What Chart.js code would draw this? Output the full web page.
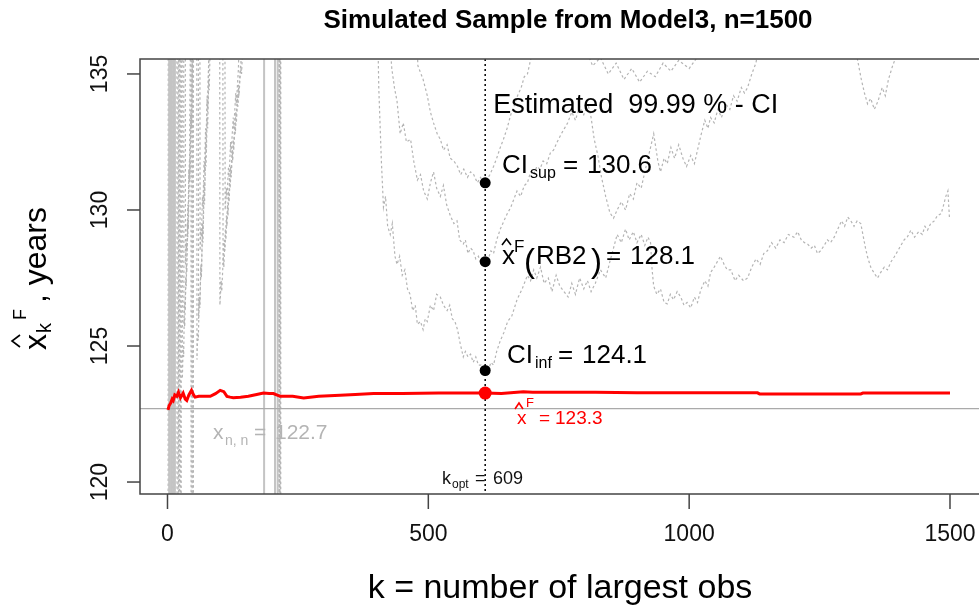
<!DOCTYPE html>
<html lang="en">
  <head>
    <meta charset="UTF-8" />
    <title>Simulated Sample from Model3, n=1500</title>
    <script src="https://cdn.jsdelivr.net/npm/chart.js"></script>
    <style>
      html,
      body {
        margin: 0;
        padding: 0;
        overflow: hidden;
        background: #fff;
      }
      #wrap {
        width: 979px;
        height: 610px;
        overflow: hidden;
      }
      canvas {
        display: block;
      }
    </style>
  </head>
  <body>
    <div id="wrap"><canvas id="endpointChart" width="979" height="610"></canvas></div>

    <script>
      // axis ticks
      var xTicks = [0, 500, 1000, 1500];
      var yTicks = [120, 125, 130, 135];

      // estimates at the chosen k
      var kOpt = 609;
      var supDot = 131.0;
      var estDot = 128.1;
      var infDot = 124.1;
      var xHatF = 123.27;
      var xMax = 122.7; // x_{n,n}

      // endpoint estimate x^F against k (red)
      var redK = [1, 3, 6, 9, 11, 14, 18, 21, 25, 30, 34, 37, 41, 46, 50, 53, 60, 70, 82, 92, 101, 108, 114, 120, 126, 140, 155, 171, 184, 195, 203, 216, 240, 261, 290, 331, 360, 395, 450, 520, 587, 609, 640, 682, 700, 760, 820, 900, 1000, 1131, 1135, 1200, 1329, 1333, 1400, 1500];
      var redV = [122.65, 122.8, 122.9, 123.05, 123.0, 123.2, 123.15, 123.3, 123.1, 123.27, 123.05, 123.0, 123.2, 123.37, 123.2, 123.12, 123.15, 123.15, 123.15, 123.25, 123.37, 123.32, 123.15, 123.12, 123.1, 123.12, 123.15, 123.22, 123.27, 123.25, 123.25, 123.15, 123.15, 123.09, 123.15, 123.19, 123.22, 123.25, 123.25, 123.27, 123.27, 123.27, 123.25, 123.32, 123.3, 123.3, 123.3, 123.28, 123.28, 123.28, 123.24, 123.24, 123.24, 123.27, 123.27, 123.27];

      // lower CI curve (gray dotted); 100 / 140 = outside the plotted range
      var lowK = [1, 1.5, 18, 18.5, 21, 21.5, 28, 28.5, 30, 31, 32, 33, 35, 36, 38, 39, 41, 42, 43, 44, 45, 45.5, 47, 47.5, 56, 56.5, 58, 59, 61, 62, 64, 65, 67, 68, 70, 71, 73, 74, 76, 77, 79, 80, 100, 100.5, 103, 104, 107, 108, 111, 112, 115, 116, 119, 120, 124, 125, 129, 130, 134, 135, 140, 142, 146, 213, 213.5, 216, 216.5, 400,
        405, 410, 414, 418, 422, 427, 431, 436, 440, 445, 450, 455, 460, 465, 470, 475, 479, 485, 490, 494, 498, 504, 510, 516, 523, 529, 536, 541, 546, 551, 556, 561, 567, 571, 576, 581, 586, 591, 596, 601, 606, 611, 615, 620, 625, 631, 638, 645, 652, 660, 670, 680, 690, 696, 702, 708, 715, 722, 730, 737, 745, 752, 760, 768, 775, 782, 790, 798, 805, 812, 820, 830, 840, 848, 855, 862, 870, 878, 885, 893, 900, 908, 915, 921, 926, 929, 932, 938, 945, 952, 958, 964, 970, 977, 984, 990, 996, 1003, 1010, 1016, 1022, 1030, 1036, 1041, 1048, 1054, 1060, 1067, 1073, 1080, 1088, 1095, 1104, 1112, 1120, 1128, 1136, 1143, 1150, 1158, 1166, 1174, 1182, 1190, 1201, 1208, 1215, 1221, 1227, 1234, 1240, 1246, 1252, 1259, 1265, 1271, 1278, 1285, 1292, 1298, 1304, 1310, 1316, 1322, 1329, 1334, 1338, 1342, 1348, 1354, 1361, 1367, 1374, 1380, 1387, 1393, 1400, 1406, 1412, 1418, 1425, 1432, 1440, 1447, 1452, 1457, 1463, 1470, 1476, 1483, 1488, 1492, 1496, 1499];
      var lowV = [100, 140, 140, 100, 100, 140, 140, 123.8, 125.0, 124.6, 126.0, 125.7, 127.5, 127.2, 129.5, 129.0, 131.5, 131.0, 134.0, 136.5, 140, 100, 100, 140, 140, 124.5, 125.5, 125.2, 126.8, 126.4, 128.0, 127.6, 129.5, 129.1, 131.0, 130.6, 132.5, 132.1, 134.0, 133.6, 135.6, 137, 140, 126.5, 127.4, 127.0, 128.3, 127.9, 129.3, 128.9, 130.2, 129.8, 131.2, 130.8, 132.2, 131.8, 133.2, 132.8, 134.2, 133.8, 135.3, 135.0, 137, 140, 100, 100, 140, 140,
        134.5, 131.8, 130.1, 130.5, 129.4, 129.1, 129.5, 128.3, 128.0, 128.3, 127.6, 127.8, 127.1, 126.9, 126.3, 126.5, 125.8, 125.9, 125.6, 126.0, 125.9, 126.5, 126.3, 126.9, 126.8, 126.5, 126.3, 126.5, 126.0, 125.9, 125.6, 125.1, 124.6, 124.8, 124.6, 124.7, 124.4, 124.6, 124.3, 124.3, 124.1, 124.2, 124.1, 124.4, 124.3, 124.8, 125.2, 125.5, 125.9, 126.1, 126.7, 127.1, 127.6, 127.4, 127.8, 127.5, 127.9, 127.3, 127.5, 127.0, 127.6, 127.2, 127.0, 126.8, 127.3, 126.9, 127.5, 127.1, 127.4, 127.0, 127.3, 127.8, 127.5, 128.1, 128.6, 129.1, 128.8, 129.3, 128.9, 129.2, 128.8, 129.1, 128.7, 129.0, 128.8, 127.8, 127.2, 126.9, 127.1, 126.6, 126.55, 126.9, 126.7, 127.0, 126.8, 126.5, 126.6, 126.4, 126.8, 126.6, 127.05, 127.4, 127.2, 127.7, 127.9, 128.1, 128.3, 128.0, 127.8, 127.8, 127.4, 127.6, 127.4, 127.5, 127.9, 128.2, 128.0, 128.4, 128.5, 128.8, 128.6, 128.9, 128.8, 129.1, 129.0, 129.2, 128.9, 128.8, 128.75, 128.6, 128.7, 128.4, 128.5, 128.7, 128.9, 128.8, 129.0, 129.3, 129.6, 129.4, 129.74, 129.6, 129.4, 129.6, 129.5, 129.0, 128.6, 128.27, 127.9, 127.7, 127.5, 127.7, 127.9, 127.8, 128.1, 128.27, 128.5, 128.7, 128.9, 129.0, 129.26, 129.0, 129.2, 129.1, 129.4, 129.26, 129.5, 129.6, 129.8, 129.86, 130.2, 130.5, 130.7, 129.7];

      // middle curve, x^F(RB2) against k (gray dotted)
      var estK = [1, 8, 8.5, 10, 10.5, 20, 20.5, 23, 23.5, 31, 31.5, 33, 34, 36, 37, 39, 40, 42, 43, 45, 46, 48, 48.5, 48.8, 49.5, 49.8, 59, 59.5, 61, 62, 64, 65, 67, 68, 70, 71, 73, 74, 76, 77, 79, 80, 82, 84, 106, 106.5, 109, 110, 113, 114, 117, 118, 121, 122, 126, 127, 131, 132, 136, 137, 141, 145, 214, 214.5, 215.5, 216, 420,
        425, 430, 435, 440, 446, 452, 458, 466, 472, 479, 485, 491, 498, 504, 510, 516, 523, 529, 535, 542, 549, 555, 560, 567, 571, 576, 581, 586, 591, 596, 601, 606, 611, 615, 620, 625, 631, 638, 645, 651, 658, 664, 670, 677, 684, 690, 696, 702, 708, 714, 720, 727, 734, 740, 747, 755, 761, 767, 775, 782, 790, 798, 806, 812, 818, 825, 832, 840, 848, 855, 862, 870, 878, 886, 893, 900, 908, 915, 921, 926, 932, 940, 945, 952, 958, 965, 972, 980, 988, 995, 1003, 1010, 1016, 1022, 1030, 1036, 1041, 1048, 1055, 1062, 1070, 1078, 1085, 1092, 1100, 1106, 1112, 1120, 1128, 1136, 1200, 1300, 1320, 1330, 1336, 1342, 1348, 1355, 1362, 1370, 1376, 1382, 1390, 1398, 1405, 1500];
      var estV = [140, 140, 100, 100, 140, 140, 100, 100, 140, 140, 125.8, 126.6, 126.3, 128.0, 127.7, 129.6, 129.3, 131.5, 131.1, 133.5, 133.0, 135.5, 140, 100, 100, 140, 140, 126.0, 126.8, 126.5, 127.9, 127.5, 129.2, 128.8, 130.6, 130.2, 132.0, 131.6, 133.4, 133.0, 134.8, 134.4, 136.2, 140, 140, 128.0, 128.9, 128.5, 129.8, 129.4, 130.7, 130.3, 131.6, 131.2, 132.6, 132.2, 133.6, 133.2, 134.6, 134.2, 135.5, 137, 140, 100, 100, 140, 140,
        136.5, 135.2, 134.5, 134.0, 132.8, 133.2, 132.5, 132.6, 131.8, 131.1, 131.3, 130.7, 130.4, 131.0, 131.4, 130.8, 130.5, 130.9, 130.2, 129.8, 129.5, 129.6, 128.9, 128.75, 128.9, 128.4, 128.6, 128.5, 128.2, 128.3, 128.0, 128.3, 128.1, 128.2, 128.5, 128.4, 128.9, 129.3, 129.6, 129.85, 130.1, 130.4, 130.7, 130.5, 130.9, 131.0, 131.4, 131.3, 131.6, 131.5, 131.8, 131.7, 132.1, 132.2, 132.5, 132.8, 133.0, 133.2, 133.6, 133.3, 133.8, 133.5, 133.9, 133.4, 132.6, 132.0, 131.2, 130.5, 129.9, 129.7, 130.0, 130.3, 130.0, 130.6, 130.4, 131.0, 130.8, 131.4, 131.9, 132.3, 132.8, 131.8, 131.4, 131.9, 131.7, 132.3, 131.9, 132.4, 131.9, 131.6, 132.0, 131.7, 132.2, 132.7, 133.3, 133.0, 133.4, 133.2, 133.7, 133.4, 133.9, 133.7, 134.2, 134.0, 134.5, 134.3, 134.5, 135.0, 135.4, 136.3, 137, 137, 135.8, 134.8, 134.3, 133.9, 134.1, 133.7, 134.0, 134.5, 134.2, 134.8, 135.3, 135.7, 136.5, 138];

      // upper CI curve (gray dotted)
      var supK = [1, 12, 12.5, 13, 13.5, 24, 24.5, 26, 26.5, 34, 34.5, 36, 37, 39, 40, 42, 43, 45, 46, 47, 47.5, 62, 62.5, 64, 65, 67, 68, 70, 71, 73, 74, 76, 77, 79, 81, 110, 110.5, 113, 114, 117, 118, 121, 122, 126, 127, 131, 132, 136, 138, 215, 215.2, 217, 217.2, 470,
        480, 490, 498, 504, 510, 517, 523, 529, 536, 542, 549, 556, 562, 568, 575, 581, 587, 594, 600, 606, 612, 618, 625, 631, 638, 644, 651, 658, 664, 671, 678, 684, 690, 697, 705, 760, 800, 815, 830, 845, 860, 875, 890, 905, 920, 935, 950, 965, 980, 1000, 1015, 1030, 1500];
      var supV = [140, 140, 100, 100, 140, 140, 100, 100, 140, 140, 128.0, 128.8, 128.5, 130.2, 129.9, 131.8, 131.4, 133.6, 133.2, 135.5, 140, 140, 128.5, 129.3, 129.0, 130.5, 130.1, 131.8, 131.4, 133.0, 132.6, 134.2, 133.8, 135.4, 137, 140, 130.0, 130.8, 130.4, 131.6, 131.2, 132.5, 132.1, 133.4, 133.0, 134.3, 133.9, 135.2, 137, 140, 100, 100, 140, 140,
        135.3, 134.8, 134.2, 133.6, 133.2, 132.8, 132.6, 132.2, 132.4, 131.9, 131.8, 131.6, 131.3, 131.5, 131.2, 131.4, 131.3, 131.0, 131.2, 131.0, 131.1, 131.3, 131.6, 131.9, 132.3, 132.6, 133.0, 133.5, 133.8, 134.2, 134.5, 134.9, 135.0, 135.6, 136.5, 137, 136.0, 135.3, 135.6, 135.0, 135.4, 134.8, 135.2, 134.7, 135.1, 134.9, 135.4, 135.1, 135.5, 135.2, 135.6, 136.5, 138];

      // another estimator, only visible as jumps at small k (gray solid)
      var solidK = [1, 3, 3.2, 7, 7.2, 11, 11.2, 14, 14.2, 185, 185.2, 206, 206.2, 211, 211.2, 1500];
      var solidV = [100, 100, 150, 150, 100, 100, 150, 150, 100, 100, 150, 150, 100, 100, 150, 150];

      function pts(ks, vs) {
        return ks.map(function (k, i) {
          return { x: k, y: vs[i] };
        });
      }

      var FONT = "Arial, 'Liberation Sans', Helvetica, sans-serif";

      function txt(ctx, s, x, y, size, color, align, bold) {
        ctx.font = (bold ? "bold " : "") + size + "px " + FONT;
        ctx.fillStyle = color;
        ctx.textAlign = align || "left";
        ctx.textBaseline = "alphabetic";
        ctx.fillText(s, x, y);
      }

      // plotmath style hat
      function hat(ctx, x, y, w, h, color) {
        ctx.strokeStyle = color;
        ctx.lineWidth = 1.6;
        ctx.setLineDash([]);
        ctx.beginPath();
        ctx.moveTo(x, y);
        ctx.lineTo(x + w / 2, y - h);
        ctx.lineTo(x + w, y);
        ctx.stroke();
      }

      var decor = {
        id: "decor",
        afterDatasetsDraw: function (chart) {
          var ctx = chart.ctx;
          var a = chart.chartArea;
          var xs = chart.scales.x;
          var ys = chart.scales.y;
          ctx.save();

          // box (right side runs off the picture)
          ctx.strokeStyle = "#444";
          ctx.lineWidth = 1.5;
          ctx.setLineDash([]);
          ctx.beginPath();
          ctx.moveTo(a.right + 5, a.top);
          ctx.lineTo(a.left, a.top);
          ctx.lineTo(a.left, a.bottom);
          ctx.lineTo(a.right + 5, a.bottom);
          ctx.stroke();

          // x axis
          xTicks.forEach(function (v) {
            var px = xs.getPixelForValue(v);
            ctx.beginPath();
            ctx.moveTo(px, a.bottom);
            ctx.lineTo(px, a.bottom + 15);
            ctx.stroke();
            ctx.font = "23px " + FONT;
            ctx.fillStyle = "#111";
            ctx.textAlign = "center";
            ctx.textBaseline = "middle";
            ctx.fillText(String(v), px, 535);
          });

          // y axis, labels parallel to the axis
          yTicks.forEach(function (v) {
            var py = ys.getPixelForValue(v);
            ctx.beginPath();
            ctx.moveTo(a.left, py);
            ctx.lineTo(a.left - 13, py);
            ctx.stroke();
            ctx.save();
            ctx.translate(101, py);
            ctx.rotate(-Math.PI / 2);
            ctx.font = "23px " + FONT;
            ctx.fillStyle = "#111";
            ctx.textAlign = "center";
            ctx.textBaseline = "middle";
            ctx.fillText(String(v), 0, 0);
            ctx.restore();
          });

          // titles
          txt(ctx, "Simulated Sample from Model3, n=1500", 568, 28, 26, "#000", "center", true);
          txt(ctx, "k = number of largest obs", 560, 598, 34, "#000", "center");

          ctx.save();
          ctx.translate(46, 350);
          ctx.rotate(-Math.PI / 2);
          txt(ctx, "x", 0, 0, 32, "#000");
          hat(ctx, 3, -26, 12, 8, "#000");
          txt(ctx, "k", 17, 5, 20, "#000");
          txt(ctx, "F", 30, -20, 18, "#000");
          txt(ctx, ", years", 47, 0, 32, "#000");
          ctx.restore();

          // annotations
          var kx = xs.getPixelForValue(kOpt);
          txt(ctx, "Estimated  99.99 % - CI", kx + 8, 113, 27, "#000");

          txt(ctx, "CI", 502, 173, 26, "#000");
          txt(ctx, "sup", 530, 178, 16, "#000");
          txt(ctx, "=", 563, 173, 26, "#000");
          txt(ctx, "130.6", 587, 173, 26, "#000");

          txt(ctx, "x", 502, 264, 26, "#000");
          hat(ctx, 502, 245, 9, 6, "#000");
          txt(ctx, "F", 514, 252, 17, "#000");
          txt(ctx, "(", 524, 272, 33, "#000");
          txt(ctx, "RB2", 536, 264, 26, "#000");
          txt(ctx, ")", 591, 272, 33, "#000");
          txt(ctx, "=", 606, 264, 26, "#000");
          txt(ctx, "128.1", 630, 264, 26, "#000");

          txt(ctx, "CI", 507, 363, 26, "#000");
          txt(ctx, "inf", 535, 368, 16, "#000");
          txt(ctx, "=", 558, 363, 26, "#000");
          txt(ctx, "124.1", 582, 363, 26, "#000");

          txt(ctx, "x", 213, 439, 21, "#b4b4b4");
          txt(ctx, "n, n", 225, 445, 14, "#b4b4b4");
          txt(ctx, "=", 254, 439, 21, "#b4b4b4");
          txt(ctx, "122.7", 275, 439, 21, "#b4b4b4");

          txt(ctx, "x", 517, 424, 19, "#ff0000");
          hat(ctx, 515, 409, 8, 6, "#ff0000");
          txt(ctx, "F", 526, 407, 13, "#ff0000");
          txt(ctx, "=", 539, 424, 19, "#ff0000");
          txt(ctx, "123.3", 555, 424, 19, "#ff0000");

          txt(ctx, "k", 442, 484, 18, "#111");
          txt(ctx, "opt", 452, 488, 12, "#111");
          txt(ctx, "=", 475, 484, 18, "#111");
          txt(ctx, "609", 493, 484, 18, "#111");

          ctx.restore();
        },
      };

      var grayDot = {
        borderColor: "#b4b4b4",
        borderWidth: 1.2,
        borderDash: [2.5, 2.5],
        pointRadius: 0,
        fill: false,
      };

      new Chart(document.getElementById("endpointChart").getContext("2d"), {
        type: "line",
        data: {
          datasets: [
            {
              label: "CI and estimate at k_opt",
              data: [
                { x: kOpt, y: supDot },
                { x: kOpt, y: estDot },
                { x: kOpt, y: infDot },
              ],
              showLine: false,
              pointRadius: 5.5,
              pointBackgroundColor: "#000",
              pointBorderWidth: 0,
            },
            {
              label: "x^F at k_opt",
              data: [{ x: kOpt, y: xHatF }],
              showLine: false,
              pointRadius: 6.5,
              pointBackgroundColor: "#ff0000",
              pointBorderWidth: 0,
            },
            {
              label: "k_opt",
              data: [
                { x: kOpt, y: 100 },
                { x: kOpt, y: 140 },
              ],
              borderColor: "#000",
              borderWidth: 1.5,
              borderDash: [2, 3],
              pointRadius: 0,
            },
            {
              label: "x^F",
              data: pts(redK, redV),
              borderColor: "#ff0000",
              borderWidth: 3,
              pointRadius: 0,
            },
            {
              label: "x_n,n",
              data: [
                { x: -100, y: xMax },
                { x: 1700, y: xMax },
              ],
              borderColor: "#aaaaaa",
              borderWidth: 1.3,
              pointRadius: 0,
            },
            {
              label: "solid",
              data: pts(solidK, solidV),
              borderColor: "#c4c4c4",
              borderWidth: 2,
              pointRadius: 0,
            },
            Object.assign({ label: "CI sup", data: pts(supK, supV) }, grayDot),
            Object.assign({ label: "RB2", data: pts(estK, estV) }, grayDot),
            Object.assign({ label: "CI inf", data: pts(lowK, lowV) }, grayDot),
          ],
        },
        options: {
          responsive: false,
          animation: false,
          devicePixelRatio: 1,
          layout: {
            autoPadding: false,
            padding: { left: 140, top: 59, right: 0, bottom: 116 },
          },
          scales: {
            x: { type: "linear", display: false, min: -52.7, max: 1555.6 },
            y: { type: "linear", display: false, min: 119.56, max: 135.55 },
          },
          plugins: {
            legend: { display: false },
            tooltip: { enabled: false },
          },
        },
        plugins: [decor],
      });
    </script>
  </body>
</html>
